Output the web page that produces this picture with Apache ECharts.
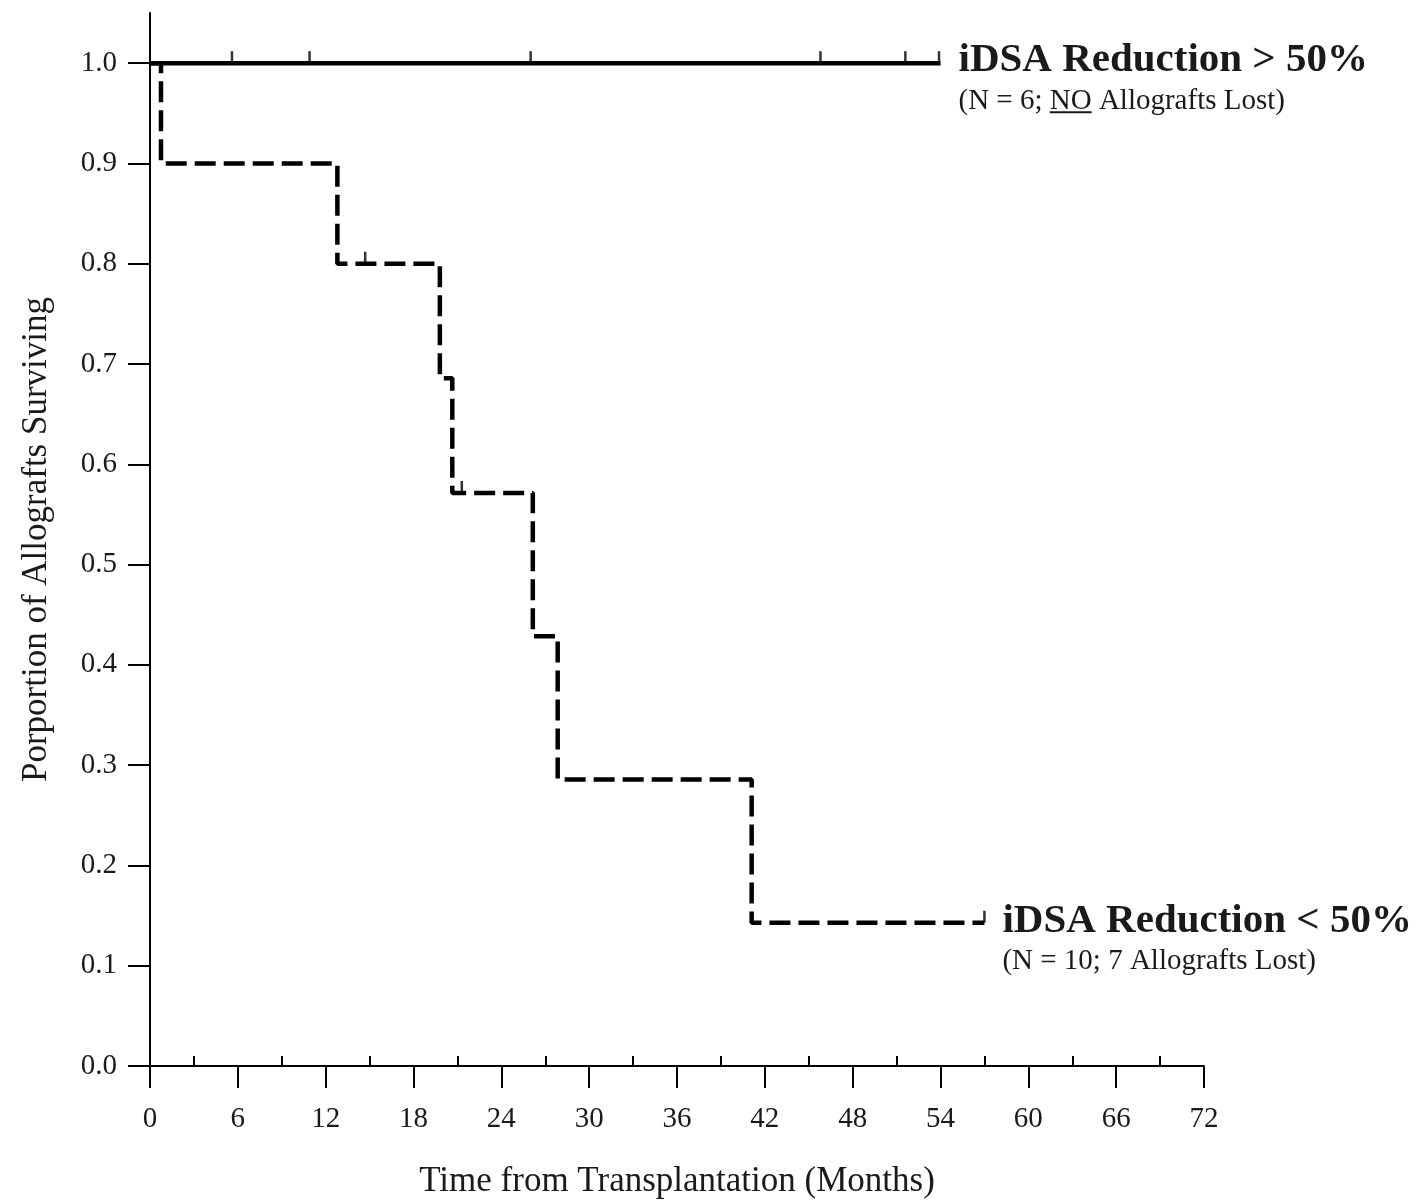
<!DOCTYPE html>
<html>
<head>
<meta charset="utf-8">
<script src="https://cdn.jsdelivr.net/npm/echarts@6/dist/echarts.min.js"></script>
<style>
html,body{margin:0;padding:0;background:#fff;}
#chart{width:1417px;height:1204px;}
</style>
</head>
<body>
<div id="chart"></div>
<script>
// ---- data ----
const xMajorTicks = [0, 6, 12, 18, 24, 30, 36, 42, 48, 54, 60, 66, 72];
const xMinorTicks = [3, 9, 15, 21, 27, 33, 39, 45, 51, 57, 63, 69];
const yTicks = [0, 0.1, 0.2, 0.3, 0.4, 0.5, 0.6, 0.7, 0.8, 0.9, 1.0];

// iDSA Reduction > 50%
const highTimes = [0, 54];
const highSurv = [1.0, 1.0];
const highCensorTimes = [5.6, 10.9, 26.0, 45.8, 51.6, 53.9];
const highCensorSurv = [1.0, 1.0, 1.0, 1.0, 1.0, 1.0];

// iDSA Reduction < 50%
const lowTimes = [0, 0.75, 12.8, 19.8, 20.65, 26.15, 27.85, 41.1, 57.0];
const lowSurv = [1.0, 0.9, 0.8, 0.6857, 0.5714, 0.4286, 0.2857, 0.1429, 0.1429];
const lowCensorTimes = [14.7, 21.3, 57.0];
const lowCensorSurv = [0.8, 0.5714, 0.1429];

const highTitle = 'iDSA Reduction > 50%';
const highSubPre = '(N = 6; ';
const highSubNO = 'NO';
const highSubPost = ' Allografts Lost)';
const lowTitle = 'iDSA Reduction < 50%';
const lowSub = '(N = 10; 7 Allografts Lost)';
const xName = 'Time from Transplantation (Months)';
const yName = 'Porportion of Allografts Surviving';

// ---- chart ----
const SERIF = '"Liberation Serif", "Times New Roman", serif';
const TXT = '#1a1a1a';
const chart = echarts.init(document.getElementById('chart'), null, {renderer: 'canvas'});

const zip = (a, b) => a.map((v, i) => [v, b[i]]);

chart.setOption({
  animation: false,
  backgroundColor: '#fff',
  grid: {left: 150, right: 213, top: 13, bottom: 137, containLabel: false},
  xAxis: [{
    type: 'value', min: 0, max: 72, interval: 6,
    position: 'bottom',
    name: xName, nameLocation: 'middle', nameGap: 98,
    nameTextStyle: {fontFamily: SERIF, fontSize: 35, color: TXT},
    axisLine: {show: true, onZero: false, lineStyle: {color: '#000', width: 2}},
    axisTick: {show: true, inside: false, length: 22, lineStyle: {color: '#000', width: 2}, customValues: xMajorTicks},
    axisLabel: {show: true, margin: 39, fontFamily: SERIF, fontSize: 29, color: TXT, customValues: xMajorTicks},
    splitLine: {show: false}
  }, {
    type: 'value', min: 0, max: 72, interval: 6,
    position: 'bottom',
    axisLine: {show: false},
    axisTick: {show: true, inside: true, length: 10, lineStyle: {color: '#000', width: 2}, customValues: xMinorTicks},
    axisLabel: {show: false},
    splitLine: {show: false}
  }],
  yAxis: [{
    type: 'value', min: 0, max: 1.05, interval: 0.1,
    name: yName, nameLocation: 'middle', nameGap: 96, nameRotate: 90,
    nameTextStyle: {fontFamily: SERIF, fontSize: 35, color: TXT},
    axisLine: {show: true, onZero: false, lineStyle: {color: '#000', width: 2}},
    axisTick: {show: true, inside: false, length: 22, lineStyle: {color: '#000', width: 2}, customValues: yTicks},
    axisLabel: {show: true, margin: 33, fontFamily: SERIF, fontSize: 29, color: TXT,
      customValues: yTicks, formatter: v => Number(v).toFixed(1)},
    splitLine: {show: false}
  }],
  series: [{
    name: highTitle, type: 'line', data: zip(highTimes, highSurv),
    showSymbol: false, symbol: 'none',
    lineStyle: {color: '#000', width: 4.5, type: 'solid'}, z: 3
  }, {
    name: lowTitle, type: 'line', step: 'end', data: zip(lowTimes, lowSurv),
    showSymbol: false, symbol: 'none',
    lineStyle: {color: '#000', width: 4.5, type: [21, 8], cap: 'butt'}, z: 2
  }, {
    name: highTitle + ' censored', type: 'scatter', data: zip(highCensorTimes, highCensorSurv),
    symbol: 'rect', symbolSize: [2.5, 12], symbolOffset: [0, -6],
    itemStyle: {color: '#000'}, z: 4
  }, {
    name: lowTitle + ' censored', type: 'scatter', data: zip(lowCensorTimes, lowCensorSurv),
    symbol: 'rect', symbolSize: [2.5, 12], symbolOffset: [0, -6],
    itemStyle: {color: '#000'}, z: 4
  }]
});

// ---- annotations placed at series end points ----
const hiEnd = chart.convertToPixel({gridIndex: 0}, [highTimes[highTimes.length - 1], highSurv[highSurv.length - 1]]);
const loEnd = chart.convertToPixel({gridIndex: 0}, [lowTimes[lowTimes.length - 1], lowSurv[lowSurv.length - 1]]);

const cv = document.createElement('canvas').getContext('2d');
const subFont = '29px ' + SERIF;
cv.font = subFont;
const preW = cv.measureText(highSubPre).width;
const noW = cv.measureText(highSubNO).width;

function txt(x, y, text, font) {
  return {type: 'text', x: x, y: y, silent: true,
    style: {text: text, font: font, fill: TXT, textAlign: 'left', textVerticalAlign: 'middle', align: 'left', verticalAlign: 'middle'}};
}
const titleFont = 'bold 41px ' + SERIF;
const dx = 18;
chart.setOption({
  graphic: [
    txt(hiEnd[0] + dx, hiEnd[1] - 3, highTitle, titleFont),
    txt(hiEnd[0] + dx, hiEnd[1] + 38, highSubPre + highSubNO + highSubPost, subFont),
    {type: 'line', silent: true,
      shape: {x1: hiEnd[0] + dx + preW, y1: hiEnd[1] + 49, x2: hiEnd[0] + dx + preW + noW, y2: hiEnd[1] + 49},
      style: {stroke: TXT, lineWidth: 2}},
    txt(loEnd[0] + dx, loEnd[1] - 1, lowTitle, titleFont),
    txt(loEnd[0] + dx, loEnd[1] + 39, lowSub, subFont)
  ]
});
</script>
</body>
</html>
